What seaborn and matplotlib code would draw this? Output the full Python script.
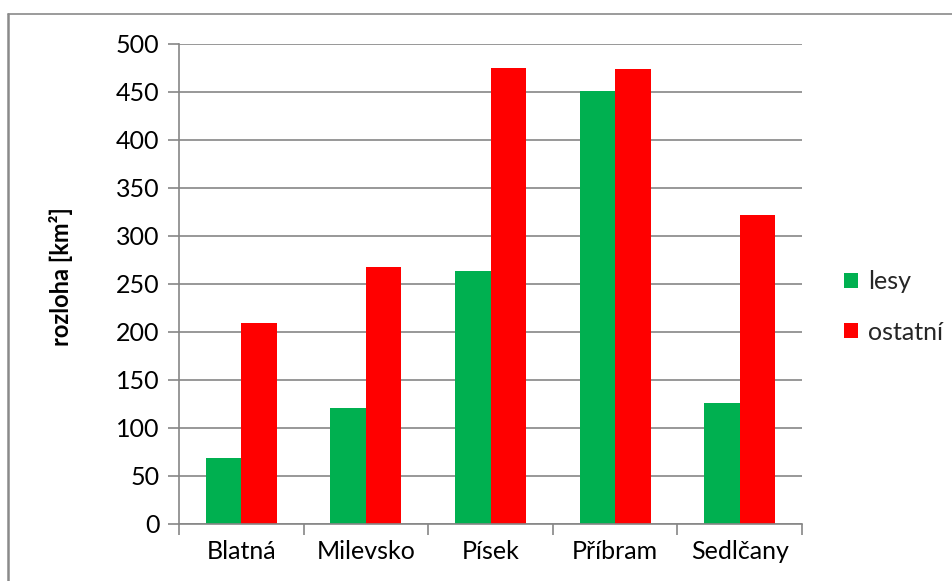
import matplotlib
matplotlib.use("Agg")
import matplotlib.pyplot as plt
from matplotlib.lines import Line2D
from matplotlib.patches import Patch
import seaborn as sns
import pandas as pd

# Land area by district, split into forest ("lesy") and the rest ("ostatní"), km²
districts = ["Blatná", "Milevsko", "Písek", "Příbram", "Sedlčany"]
lesy = [68, 120, 263, 451, 126]
ostatni = [209, 267, 474, 473, 321]
series_names = ["lesy", "ostatní"]
colors = ["#00B050", "#FF0000"]
y_ticks = [0, 50, 100, 150, 200, 250, 300, 350, 400, 450, 500]

df = pd.DataFrame({
    "okres": districts * 2,
    "rozloha": lesy + ostatni,
    "typ": [series_names[0]] * len(districts) + [series_names[1]] * len(districts),
})

sns.set_theme(style="white")
plt.rcParams["font.family"] = ["Lato", "DejaVu Sans"]

W, H = 952, 581
fig = plt.figure(figsize=(W / 100, H / 100), dpi=100)
ax = fig.add_axes([179 / W, 1 - 523.5 / H, (802 - 179) / W, (523.5 - 43.5) / H])

sns.barplot(data=df, x="okres", y="rozloha", hue="typ", palette=colors,
            width=0.57, gap=0, saturation=1, ax=ax, legend=False)
for p in ax.patches:
    p.set_edgecolor("none")

grid_c = "#868686"
ax.set_ylim(0, 500)
ax.set_xlim(-0.5, len(districts) - 0.5)
ax.set_yticks(y_ticks)
ax.set_yticklabels([str(v) for v in y_ticks])
ax.yaxis.grid(True, color=grid_c, linewidth=1.2)
ax.set_axisbelow(True)

for side in ["top", "right"]:
    ax.spines[side].set_visible(False)
for side in ["left", "bottom"]:
    ax.spines[side].set_color(grid_c)
    ax.spines[side].set_linewidth(1.2)

# category boundary ticks below the x axis, names centred between them
ax.set_xticks([i - 0.5 for i in range(len(districts) + 1)], minor=False)
ax.set_xticklabels([""] * (len(districts) + 1))
ax.set_xticks(range(len(districts)), minor=True)
ax.set_xticklabels(districts, minor=True)
ax.tick_params(axis="x", which="major", length=8, width=1.2, color=grid_c, direction="out")
ax.tick_params(axis="x", which="minor", length=0, pad=12, labelsize=18, labelcolor="black")
ax.tick_params(axis="y", length=8, width=1.2, color=grid_c, direction="out",
               pad=6, labelsize=18, labelcolor="black")
ax.tick_params(axis="both", left=True, bottom=True)

ax.set_xlabel("")
ax.set_ylabel("rozloha [km²]", fontsize=17, fontweight="bold", color="black")
ax.yaxis.set_label_coords(-0.170, 0.515)

handles = [Patch(facecolor=c, edgecolor="none", label=n) for c, n in zip(colors, series_names)]
fig.legend(handles=handles, loc="upper left", bbox_to_anchor=(834 / W, 1 - 260 / H),
           frameon=False, fontsize=18, handlelength=0.55, handleheight=0.55,
           handletextpad=0.4, labelspacing=1.1, borderaxespad=0)

# chart-area border lines
fig.add_artist(Line2D([7.5 / W, 7.5 / W], [0, 1 - 14 / H], transform=fig.transFigure,
                      color="#8a8a8a", linewidth=1.8))
fig.add_artist(Line2D([7.5 / W, 1], [1 - 14 / H, 1 - 14 / H], transform=fig.transFigure,
                      color="#8a8a8a", linewidth=1.2))

fig.savefig("out.png", dpi=100, facecolor="white")
